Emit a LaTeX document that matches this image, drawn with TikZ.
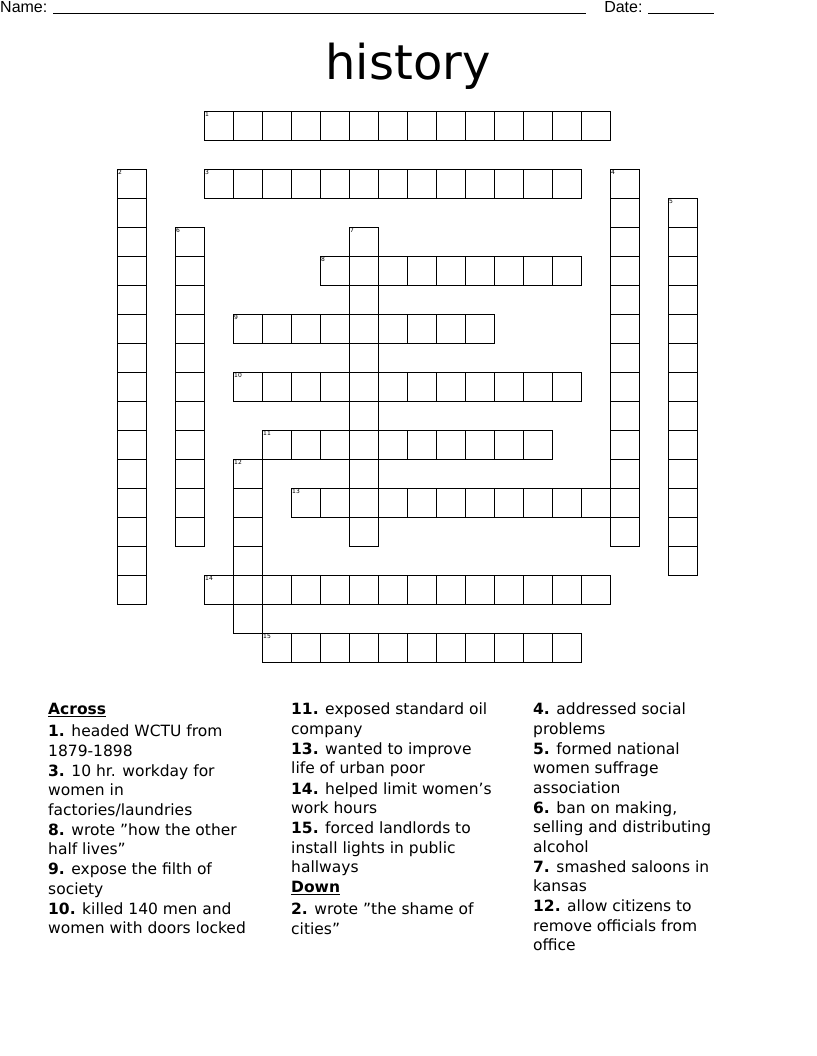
\documentclass[tikz,border=0pt]{standalone}
\usepackage{fontspec}
\setmainfont{DejaVu Sans}
\newfontfamily\hdr{Liberation Sans}
\begin{document}
\begin{tikzpicture}[x=1pt,y=-1pt,
  cellbox/.style={draw=black,line width=0.8pt,minimum size=29pt,inner sep=0pt,anchor=north west},
  num/.style={font=\fontsize{6}{6}\selectfont,anchor=north west,inner sep=1pt},
  clue/.style={font=\fontsize{15.5}{19.3}\selectfont,anchor=north west,inner sep=0pt,align=left}]
\useasboundingbox (0,0) rectangle (816,1056);
\node[anchor=north west,inner sep=0pt,font=\hdr\fontsize{16}{16}\selectfont] (name) at (0,1) {Name: \underline{\hspace{533pt}}\hspace{18pt}Date: \underline{\hspace{66pt}}};
\node[font=\fontsize{48}{48}\selectfont,inner sep=0pt] (title) at (408,66) {history};
% across: row, startcol, endcol
\foreach \r/\a/\b in {0/3/16,2/3/15,5/7/15,7/4/12,9/4/15,11/5/14,13/6/17,16/3/16,18/5/15}
  \foreach \c in {\a,...,\b} \node[cellbox] at ({117+29*\c},{111+29*\r}) {};
% down: col, startrow, endrow
\foreach \c/\a/\b in {0/2/16,17/2/14,19/3/15,2/4/14,8/4/14,4/12/17}
  \foreach \r in {\a,...,\b} \node[cellbox] at ({117+29*\c},{111+29*\r}) {};
\foreach \n/\c/\r in {1/3/0,2/0/2,3/3/2,4/17/2,5/19/3,6/2/4,7/8/4,8/7/5,9/4/7,10/4/9,11/5/11,12/4/12,13/6/13,14/3/16,15/5/18}
  \node[num] (n\n) at ({117+29*\c},{111+29*\r}) {\n};
\node[clue] (c1) at (48,703) {\underline{\textbf{Across}}\\[3pt]
\textbf{1.} headed WCTU from\\1879-1898\\[1pt]
\textbf{3.} 10 hr. workday for\\women in\\factories/laundries\\[1pt]
\textbf{8.} wrote "how the other\\half lives"\\[1pt]
\textbf{9.} expose the filth of\\society\\[1pt]
\textbf{10.} killed 140 men and\\women with doors locked};
\node[clue] (c2) at (291,703) {\textbf{11.} exposed standard oil\\company\\[1pt]
\textbf{13.} wanted to improve\\life of urban poor\\[1pt]
\textbf{14.} helped limit women's\\work hours\\[1pt]
\textbf{15.} forced landlords to\\install lights in public\\hallways\\[1pt]
\underline{\textbf{Down}}\\[3pt]
\textbf{2.} wrote "the shame of\\cities"};
\node[clue] (c3) at (533,703) {\textbf{4.} addressed social\\problems\\[1pt]
\textbf{5.} formed national\\women suffrage\\association\\[1pt]
\textbf{6.} ban on making,\\selling and distributing\\alcohol\\[1pt]
\textbf{7.} smashed saloons in\\kansas\\[1pt]
\textbf{12.} allow citizens to\\remove officials from\\office};
\end{tikzpicture}
\end{document}
